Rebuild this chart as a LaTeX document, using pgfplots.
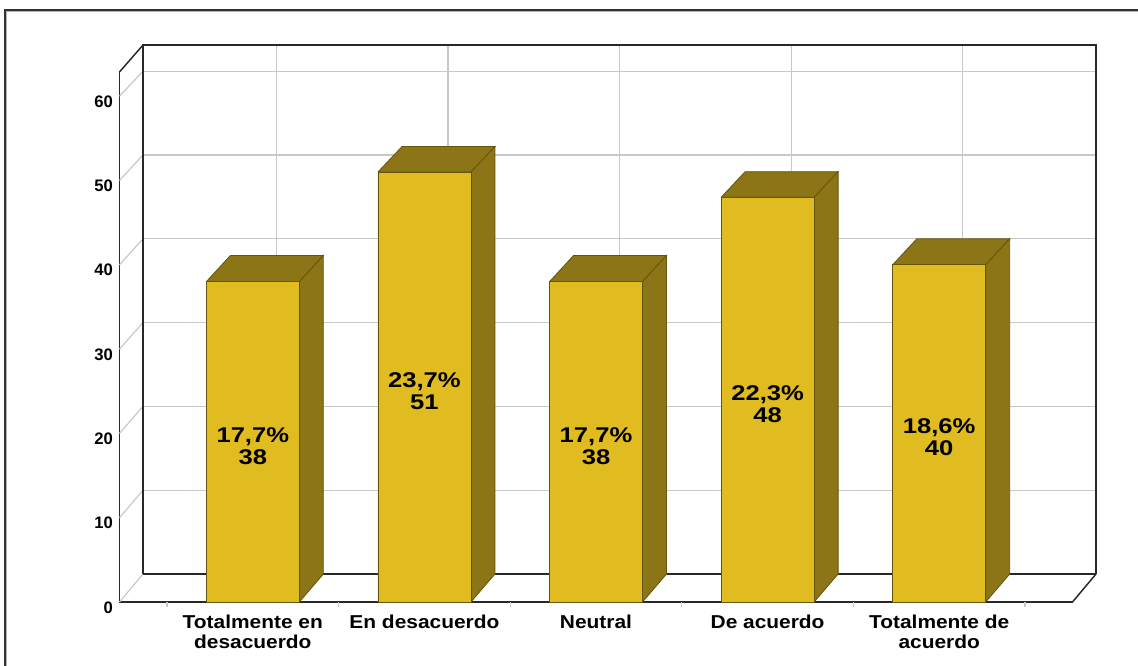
\documentclass[border=0pt]{standalone}
\usepackage{fontspec}
\setmainfont{Liberation Sans}
\usepackage{pgfplots}
\pgfplotsset{compat=1.18}
\definecolor{barfront}{RGB}{225,188,32}
\definecolor{bardark}{RGB}{139,117,22}
\definecolor{baredge}{RGB}{100,84,14}
\definecolor{gridc}{RGB}{200,200,200}
\definecolor{edgec}{RGB}{40,40,40}
\begin{document}
\begin{tikzpicture}
\useasboundingbox (-89.625pt,-48pt) rectangle (763.875pt,451.5pt);
\draw[line width=1.2pt, black!80] (-85.9pt,-60pt) -- (-85.9pt,444pt) -- (780pt,444pt);
\draw[line width=0.8pt, black!30] (-84.5pt,-60pt) -- (-84.5pt,442.6pt) -- (780pt,442.6pt);
\begin{axis}[
  scale only axis, width=714.75pt, height=397.5pt,
  xmin=-0.777, xmax=4.777, ymin=0, ymax=62.87,
  clip=false,
  axis x line*=bottom, axis y line*=left,
  axis line style={edgec, line width=1.1pt},
  xtick={0,1,2,3,4},
  xticklabels={{Totalmente en\\desacuerdo},{En desacuerdo},{Neutral},{De acuerdo},{Totalmente de\\acuerdo}},
  xticklabel style={align=center, font=\fontsize{14}{15}\selectfont\bfseries, xscale=1.12, yshift=-6pt},
  major tick length=0pt,
  extra x ticks={-0.5,0.5,1.5,2.5,3.5,4.5},
  extra x tick labels={},
  extra x tick style={major tick length=4pt, tick align=outside, tick style={gridc, line width=0.9pt}},
  ytick={0,10,20,30,40,50,60},
  yticklabels={0,10,20,30,40,50,60},
  yticklabel style={font=\fontsize{12.5}{14}\selectfont\bfseries, yshift=-4pt, xshift=-1.5pt},
  /pgf/number format/assume math mode=true,
]
% back wall horizontal grid
\addplot[gridc, line width=0.9pt, mark=none] coordinates {(-0.640,13.262)(4.914,13.262)};
\addplot[gridc, line width=0.9pt, mark=none] coordinates {(-0.640,23.203)(4.914,23.203)};
\addplot[gridc, line width=0.9pt, mark=none] coordinates {(-0.640,33.144)(4.914,33.144)};
\addplot[gridc, line width=0.9pt, mark=none] coordinates {(-0.640,43.084)(4.914,43.084)};
\addplot[gridc, line width=0.9pt, mark=none] coordinates {(-0.640,53.025)(4.914,53.025)};
\addplot[gridc, line width=0.9pt, mark=none] coordinates {(-0.640,62.966)(4.914,62.966)};
% left wall diagonals
\addplot[gridc, line width=0.9pt, mark=none] coordinates {(-0.777,0)(-0.640,3.321)};
\addplot[gridc, line width=0.9pt, mark=none] coordinates {(-0.777,10)(-0.640,13.262)};
\addplot[gridc, line width=0.9pt, mark=none] coordinates {(-0.777,20)(-0.640,23.203)};
\addplot[gridc, line width=0.9pt, mark=none] coordinates {(-0.777,30)(-0.640,33.144)};
\addplot[gridc, line width=0.9pt, mark=none] coordinates {(-0.777,40)(-0.640,43.084)};
\addplot[gridc, line width=0.9pt, mark=none] coordinates {(-0.777,50)(-0.640,53.025)};
\addplot[gridc, line width=0.9pt, mark=none] coordinates {(-0.777,60)(-0.640,62.966)};
% back wall vertical grid
\addplot[gridc, line width=0.9pt, mark=none] coordinates {(0.137,3.321)(0.137,66.07)};
\addplot[gridc, line width=0.9pt, mark=none] coordinates {(1.137,3.321)(1.137,66.07)};
\addplot[gridc, line width=0.9pt, mark=none] coordinates {(2.137,3.321)(2.137,66.07)};
\addplot[gridc, line width=0.9pt, mark=none] coordinates {(3.137,3.321)(3.137,66.07)};
\addplot[gridc, line width=0.9pt, mark=none] coordinates {(4.137,3.321)(4.137,66.07)};
% dark box edges
\addplot[edgec, line width=1.1pt, mark=none] coordinates {(-0.640,3.321)(4.914,3.321)};
\addplot[edgec, line width=1.1pt, mark=none] coordinates {(-0.640,3.321)(-0.640,66.07)(4.914,66.07)(4.914,3.321)};
\addplot[edgec, line width=1.1pt, mark=none] coordinates {(-0.777,62.87)(-0.640,66.07)};
\addplot[edgec, line width=1.1pt, mark=none] coordinates {(4.777,0)(4.914,3.321)};
% bar tops
\addplot[fill=bardark, draw=baredge, line width=0.6pt, mark=none] coordinates {(-0.271,38)(-0.131,41.10)(0.411,41.10)(0.271,38)(-0.271,38)};
\addplot[fill=bardark, draw=baredge, line width=0.6pt, mark=none] coordinates {(0.729,51)(0.869,54.02)(1.411,54.02)(1.271,51)(0.729,51)};
\addplot[fill=bardark, draw=baredge, line width=0.6pt, mark=none] coordinates {(1.729,38)(1.869,41.10)(2.411,41.10)(2.271,38)(1.729,38)};
\addplot[fill=bardark, draw=baredge, line width=0.6pt, mark=none] coordinates {(2.729,48)(2.869,51.04)(3.411,51.04)(3.271,48)(2.729,48)};
\addplot[fill=bardark, draw=baredge, line width=0.6pt, mark=none] coordinates {(3.729,40)(3.869,43.08)(4.411,43.08)(4.271,40)(3.729,40)};
% bar sides
\addplot[fill=bardark, draw=baredge, line width=0.6pt, mark=none] coordinates {(0.271,0)(0.271,38)(0.411,41.10)(0.411,3.321)(0.271,0)};
\addplot[fill=bardark, draw=baredge, line width=0.6pt, mark=none] coordinates {(1.271,0)(1.271,51)(1.411,54.02)(1.411,3.321)(1.271,0)};
\addplot[fill=bardark, draw=baredge, line width=0.6pt, mark=none] coordinates {(2.271,0)(2.271,38)(2.411,41.10)(2.411,3.321)(2.271,0)};
\addplot[fill=bardark, draw=baredge, line width=0.6pt, mark=none] coordinates {(3.271,0)(3.271,48)(3.411,51.04)(3.411,3.321)(3.271,0)};
\addplot[fill=bardark, draw=baredge, line width=0.6pt, mark=none] coordinates {(4.271,0)(4.271,40)(4.411,43.08)(4.411,3.321)(4.271,0)};
% bar fronts
\addplot[ybar, bar width=0.542, fill=barfront, draw=baredge, line width=0.6pt] coordinates {(0,38)(1,51)(2,38)(3,48)(4,40)};
% labels
\node[font=\fontsize{16}{16.5}\selectfont\bfseries, align=center, xscale=1.2, yshift=-3pt] at (axis cs:0,19) {17,7\%\\38};
\node[font=\fontsize{16}{16.5}\selectfont\bfseries, align=center, xscale=1.2, yshift=-3pt] at (axis cs:1,25.5) {23,7\%\\51};
\node[font=\fontsize{16}{16.5}\selectfont\bfseries, align=center, xscale=1.2, yshift=-3pt] at (axis cs:2,19) {17,7\%\\38};
\node[font=\fontsize{16}{16.5}\selectfont\bfseries, align=center, xscale=1.2, yshift=-3pt] at (axis cs:3,24) {22,3\%\\48};
\node[font=\fontsize{16}{16.5}\selectfont\bfseries, align=center, xscale=1.2, yshift=-3pt] at (axis cs:4,20) {18,6\%\\40};
\end{axis}
\end{tikzpicture}
\end{document}
